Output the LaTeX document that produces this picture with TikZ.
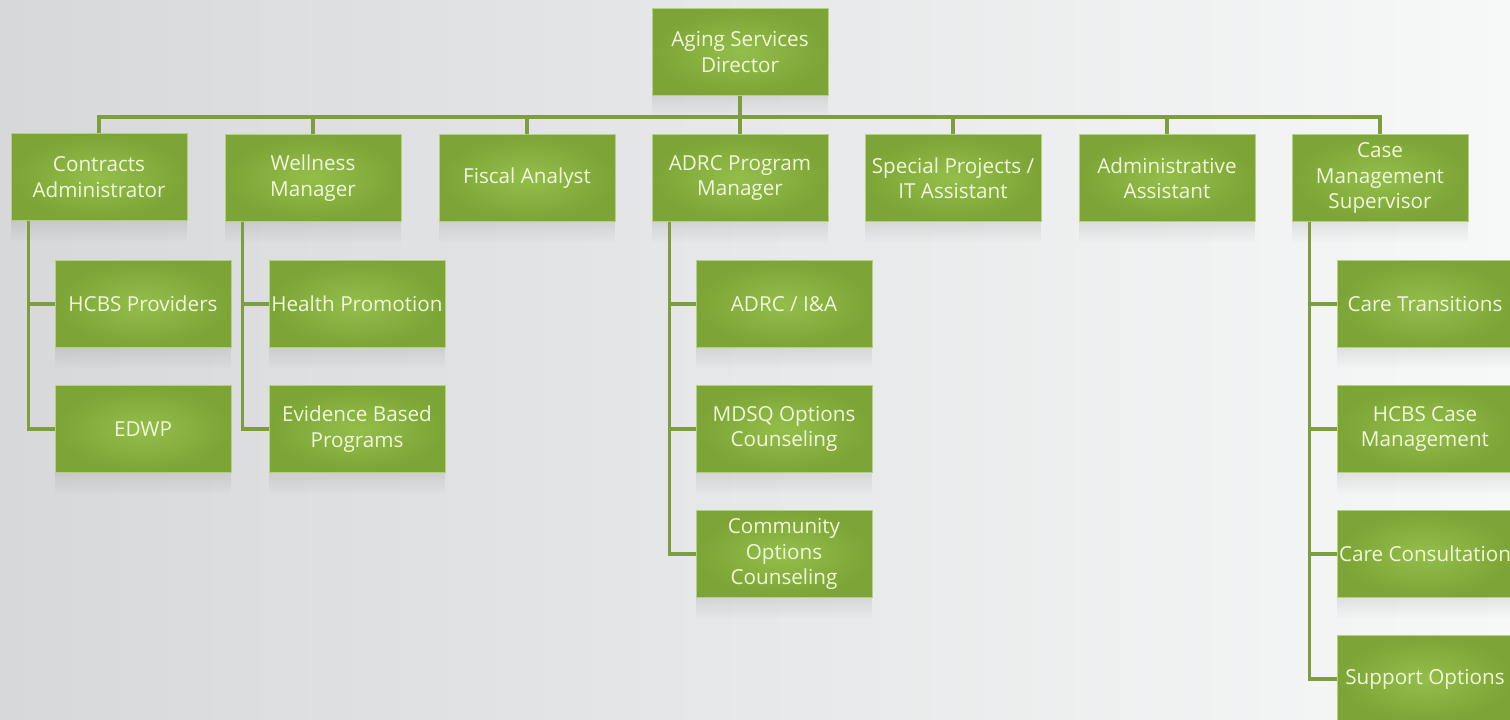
\documentclass[tikz,border=0pt]{standalone}
\usepackage{fontspec}
\setmainfont{Open Sans}
\usetikzlibrary{positioning,fadings}
\definecolor{asgreen}{RGB}{124,164,54}
\definecolor{aslight}{RGB}{148,190,74}
\definecolor{asline}{RGB}{126,156,64}
\definecolor{astext}{RGB}{240,247,220}
\definecolor{bgdark}{RGB}{214,216,218}
\definecolor{bglight}{RGB}{247,248,248}
\tikzset{
  box/.style={rectangle, draw=aslight!70!white, line width=0.6pt, inner color=aslight, outer color=asgreen, minimum width=132pt, minimum height=65pt, align=center, text=astext, font=\fontsize{15.5}{19}\selectfont, inner sep=1pt},
  link/.style={draw=asline, line width=2.5pt},
  reflect/.style={fill=black, opacity=0.08, path fading=south},
}

\begin{document}
\begin{tikzpicture}[x=0.75pt, y=-0.75pt]
  % background
  \useasboundingbox (0,0) rectangle (1510,719);
  \clip (0,0) rectangle (1510,719);
  \shade[left color=bgdark, right color=bglight] (0,0) rectangle (1510,719);

  % top level
  \node[box] (dir) at (740,52) {Aging Services\\Director};
  \coordinate (bus) at (740,117);

  % second row
  \node[box] (ca) at (99,177) {Contracts\\Administrator};
  \node[box] (wm) at (313,178) {Wellness\\Manager};
  \node[box] (fa) at (527,178) {Fiscal Analyst};
  \node[box] (adrc) at (740,178) {ADRC Program\\Manager};
  \node[box] (sp) at (953,178) {Special Projects /\\IT Assistant};
  \node[box] (aa) at (1167,178) {Administrative\\Assistant};
  \node[box] (cms) at (1380,178) {Case\\Management\\Supervisor};

  % under Contracts Administrator
  \node[box] (hcbsp) at (143,304) {HCBS Providers};
  \node[box] (edwp) at (143,429) {EDWP};

  % under Wellness Manager
  \node[box] (hp) at (357,304) {Health Promotion};
  \node[box] (ebp) at (357,429) {Evidence Based\\Programs};

  % under ADRC Program Manager
  \node[box] (ia) at (784,304) {ADRC / I\&A};
  \node[box] (mdsq) at (784,429) {MDSQ Options\\Counseling};
  \node[box] (coc) at (784,554) {Community\\Options\\Counseling};

  % under Case Management Supervisor
  \node[box] (ct) at (1425,304) {Care Transitions};
  \node[box] (hcm) at (1425,429) {HCBS Case\\Management};
  \node[box] (cc) at (1425,554) {Care Consultation};
  \node[box] (so) at (1425,679) {Support Options};

  % soft reflections below the boxes
  \foreach \n in {dir,ca,wm,fa,adrc,sp,aa,cms,hcbsp,edwp,hp,ebp,ia,mdsq,coc,ct,hcm,cc}
    \fill[reflect] (\n.south west) rectangle ([yshift=-16pt]\n.south east);

  % connectors
  \draw[link] (dir.south) -- (bus);
  \foreach \n in {ca,wm,fa,adrc,sp,aa,cms}
    \draw[link] (bus) -| (\n.north);

  \foreach \p/\c in {ca/hcbsp,ca/edwp,wm/hp,wm/ebp,adrc/ia,adrc/mdsq,adrc/coc,cms/ct,cms/hcm,cms/cc,cms/so}
    \draw[link] ([xshift=13.5pt]\p.south west) |- (\c.west);
\end{tikzpicture}
\end{document}
